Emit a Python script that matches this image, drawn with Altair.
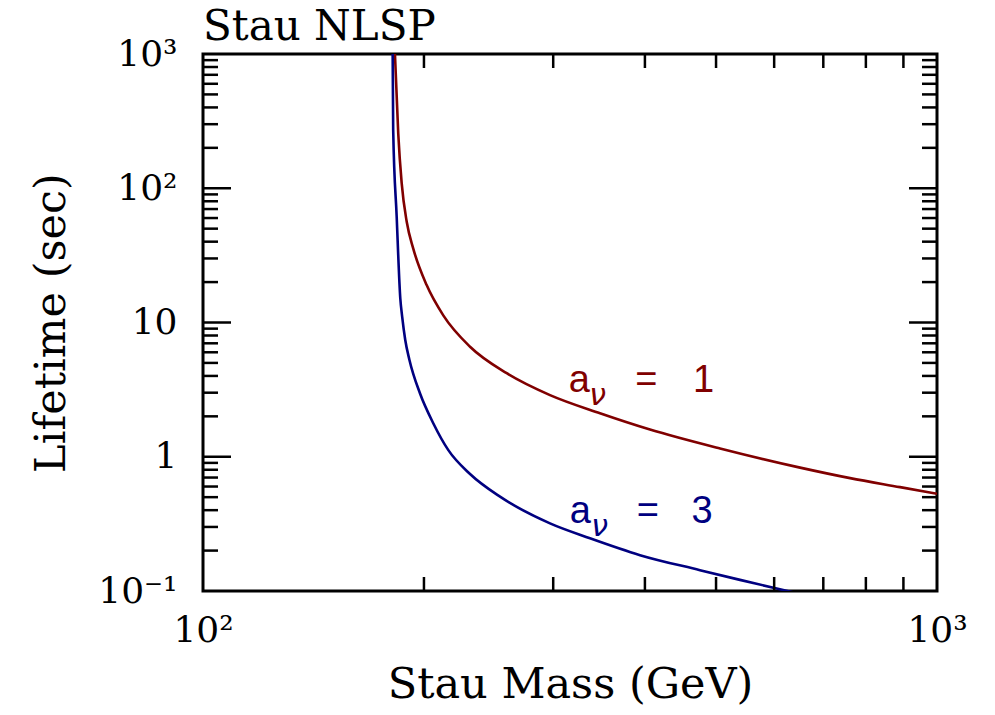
import altair as alt
import pandas as pd

# ---- data ----
red_mass = [182.6, 184.5, 186.5, 189.5, 193.4, 201.7, 212.5, 231.1, 259.3, 297.0, 347.4,
            406.4, 506.3, 650.8, 761.4, 890.6, 1000.0]
red_life = [1000, 256, 109, 56, 35.5, 19.0, 11.3, 6.6, 4.19, 2.88, 2.11,
            1.596, 1.153, 0.830, 0.693, 0.594, 0.530]

blue_mass = [181.3, 181.6, 183.6, 185.7, 186.8, 188.6, 191.1, 197.5, 206.0, 215.9, 231.1, 253.9,
             297.0, 336.7, 393.9, 475.4, 539.0, 640.5]
blue_life = [1000, 272, 61.4, 15.1, 11.0, 7.41, 5.26, 2.97, 1.77, 1.12, 0.744, 0.504,
             0.319, 0.247, 0.185, 0.143, 0.121, 0.097]

series_names = ["a1", "a3"]
series_colors = ["#800000", "#000080"]

x_tick_vals = [100, 1000]
x_tick_text = ["10²", "10³"]
y_tick_vals = [0.1, 1, 10, 100, 1000]
y_tick_text = ["10⁻¹", "1", "10", "10²", "10³"]

x_minor = [200, 300, 400, 500, 600, 700, 800, 900]
y_minor = [m * d for d in [0.1, 1, 10, 100] for m in range(2, 10)]
y_major = [1, 10, 100]

# annotation pieces (text, mass position, lifetime baseline, series)
lab_text = ["a", "=", "1", "a", "=", "3"]
lab_x = [315, 388, 465, 316, 390, 463]
lab_y = [3.035, 3.035, 3.035, 0.321, 0.321, 0.321]
lab_series = ["a1", "a1", "a1", "a3", "a3", "a3"]
sub_text = ["ν", "ν"]
sub_x = [336, 338]
sub_y = [2.43, 0.257]
sub_series = ["a1", "a3"]

title_text = "Stau NLSP"
x_title = "Stau Mass (GeV)"
y_title = "Lifetime (sec)"

# ---- tables ----
curves = pd.concat([
    pd.DataFrame({"mass": red_mass, "life": red_life, "s": "a1"}),
    pd.DataFrame({"mass": blue_mass, "life": blue_life, "s": "a3"}),
])
labels = pd.DataFrame({"t": lab_text, "m": lab_x, "l": lab_y, "s": lab_series})
subs = pd.DataFrame({"t": sub_text, "m": sub_x, "l": sub_y, "s": sub_series})

W, H = 734, 537
SERIF = "DejaVu Serif"
SANS = "Liberation Sans"

x_expr = " : ".join(f"datum.value == {v} ? '{t}'" for v, t in zip(x_tick_vals, x_tick_text)) + " : ''"
y_expr = " : ".join(f"datum.value == {v} ? '{t}'" for v, t in zip(y_tick_vals, y_tick_text)) + " : ''"

x_axis = alt.Axis(
    values=x_tick_vals, labelExpr=x_expr, ticks=False, tickSize=0, domain=False, grid=False,
    labelFont=SERIF, labelFontSize=36, labelColor="black", labelPadding=22,
    labelFlush=False, labelOverlap=False,
    title=x_title, titleFont=SERIF, titleFontSize=43, titleFontWeight="normal",
    titleColor="black", titlePadding=15)
y_axis = alt.Axis(
    values=y_tick_vals, labelExpr=y_expr, ticks=False, tickSize=0, domain=False, grid=False,
    labelFont=SERIF, labelFontSize=36, labelColor="black", labelPadding=26,
    labelFlush=False, labelOverlap=False, labelBaseline="middle",
    title=y_title, titleFont=SERIF, titleFontSize=43, titleFontWeight="normal",
    titleColor="black", titlePadding=24)


def X(f):
    return alt.X(f, scale=alt.Scale(type="log", domain=[100, 1000], nice=False), axis=x_axis)


def Y(f):
    return alt.Y(f, scale=alt.Scale(type="log", domain=[0.1, 1000], nice=False), axis=y_axis)


col = alt.Color("s:N", scale=alt.Scale(domain=series_names, range=series_colors), legend=None)

lines = alt.Chart(curves).mark_line(clip=True, strokeWidth=2.6, interpolate="monotone").encode(
    x=X("mass:Q"), y=Y("life:Q"), color=col, detail="s:N")


def yrules(vals, x0, x1):
    return alt.Chart(pd.DataFrame({"v": vals})).mark_rule(color="black", strokeWidth=2.5).encode(
        y=Y("v:Q"), x=alt.value(x0), x2=alt.value(x1))


def xrules(vals, y0, y1):
    return alt.Chart(pd.DataFrame({"v": vals})).mark_rule(color="black", strokeWidth=2.5).encode(
        x=X("v:Q"), y=alt.value(y0), y2=alt.value(y1))


ticks = [
    yrules(y_minor, 0, 15), yrules(y_minor, W, W - 15),
    yrules(y_major, 0, 28), yrules(y_major, W, W - 28),
    xrules(x_minor, H, H - 14), xrules(x_minor, 0, 14),
]

lab_layer = alt.Chart(labels).mark_text(font=SANS, fontSize=38, align="left", baseline="alphabetic").encode(
    x=X("m:Q"), y=Y("l:Q"), text="t:N", color=col)

sub_layer = alt.Chart(subs).mark_text(font="DejaVu Sans", fontSize=30, fontStyle="italic",
                                      align="left", baseline="alphabetic").encode(
    x=X("m:Q"), y=Y("l:Q"), text="t:N", color=col)

title_layer = alt.Chart(pd.DataFrame({"t": [title_text]})).mark_text(
    font=SERIF, fontSize=42, align="left", baseline="alphabetic", color="black").encode(
    x=alt.value(0), y=alt.value(-14), text="t:N")

chart = alt.layer(lines, *ticks, lab_layer, sub_layer, title_layer).properties(
    width=W, height=H,
    padding={"left": 203, "top": 54, "right": 58, "bottom": 124},
    autosize=alt.AutoSizeParams(type="none"),
    background="white",
).configure_view(stroke="black", strokeWidth=3)

chart.save("out.html", embed_options={"renderer": "svg", "actions": False})
